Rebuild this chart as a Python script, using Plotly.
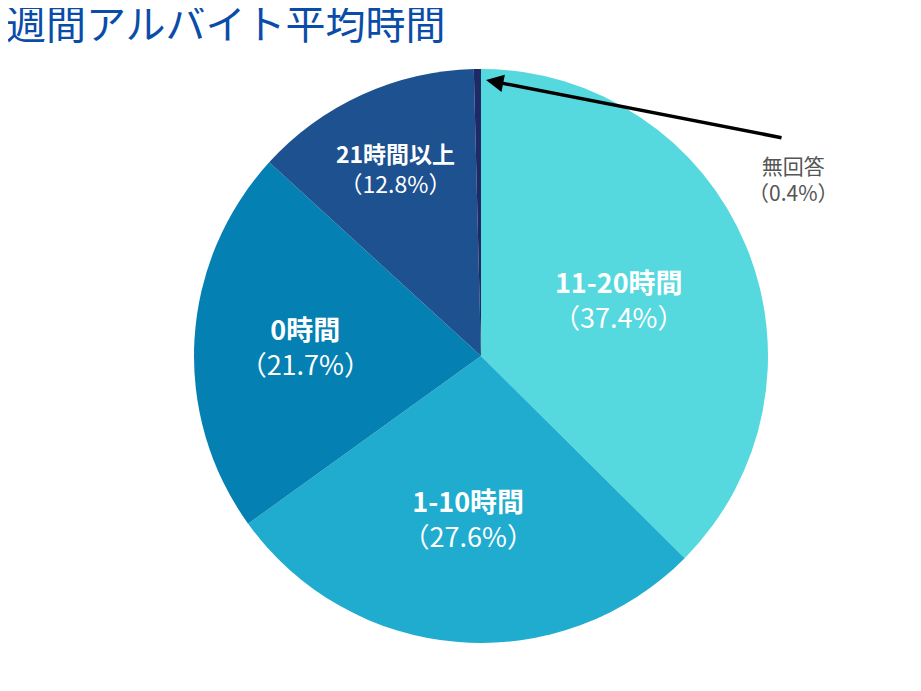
import plotly.graph_objects as go

W, H = 921, 691

labels = ["11-20時間", "1-10時間", "0時間", "21時間以上", "無回答"]
values = [37.4, 27.6, 21.7, 12.8, 0.4]
colors = ["#56D8DF", "#20ACCF", "#0480B2", "#1D5190", "#1E2A66"]
text_sizes = [27, 27, 27, 23, 1]

texts = [f"<b>{l}</b><br>（{v}%）" if l != "無回答" else "" for l, v in zip(labels, values)]


def px(x, y):
    return x / W, 1 - y / H


fig = go.Figure(
    go.Pie(
        labels=labels,
        values=values,
        text=texts,
        textinfo="text",
        textposition="inside",
        insidetextorientation="horizontal",
        sort=False,
        direction="clockwise",
        rotation=0,
        marker=dict(colors=colors, line=dict(width=0)),
        textfont=dict(color="white", size=text_sizes, family="Noto Sans CJK JP"),
        domain=dict(x=[186 / W, 760 / W], y=[1 - 635 / H, 1 - 61 / H]),
        showlegend=False,
        hoverinfo="label+percent",
    )
)

# arrow pointing to the thin 無回答 slice
hx, hy = px(478, 72)
fig.add_annotation(x=hx, y=hy, ax=775 - 478, ay=130 - 72, xref="paper", yref="paper",
                   text="", showarrow=True, arrowhead=2, arrowsize=1, arrowwidth=3.5, arrowcolor="black")
tx, ty = px(833, 140)
fig.add_annotation(x=tx, y=ty, xref="paper", yref="paper", text="無回答<br>（0.4%）", showarrow=False,
                   font=dict(size=21, color="#555555", family="Noto Sans CJK JP"))

t1x, t1y = px(-4, 14)
fig.add_annotation(x=t1x, y=t1y, xref="paper", yref="paper", xanchor="left", yanchor="middle",
                   text="週間アルバイト平均時間", showarrow=False,
                   font=dict(size=40, color="#0A4DA8", family="Noto Sans CJK JP"))
t2x, t2y = px(440, 692)
fig.add_annotation(x=t2x, y=t2y, xref="paper", yref="paper", xanchor="left", yanchor="middle",
                   text="出典：平成30年度学生生活調査結果（日本学生支援機構）", showarrow=False,
                   font=dict(size=20, color="#555555", family="Noto Sans CJK JP"))

fig.update_layout(width=W, height=H, margin=dict(l=0, r=0, t=0, b=0),
                  paper_bgcolor="white", plot_bgcolor="white")
fig.write_html("out.html")
